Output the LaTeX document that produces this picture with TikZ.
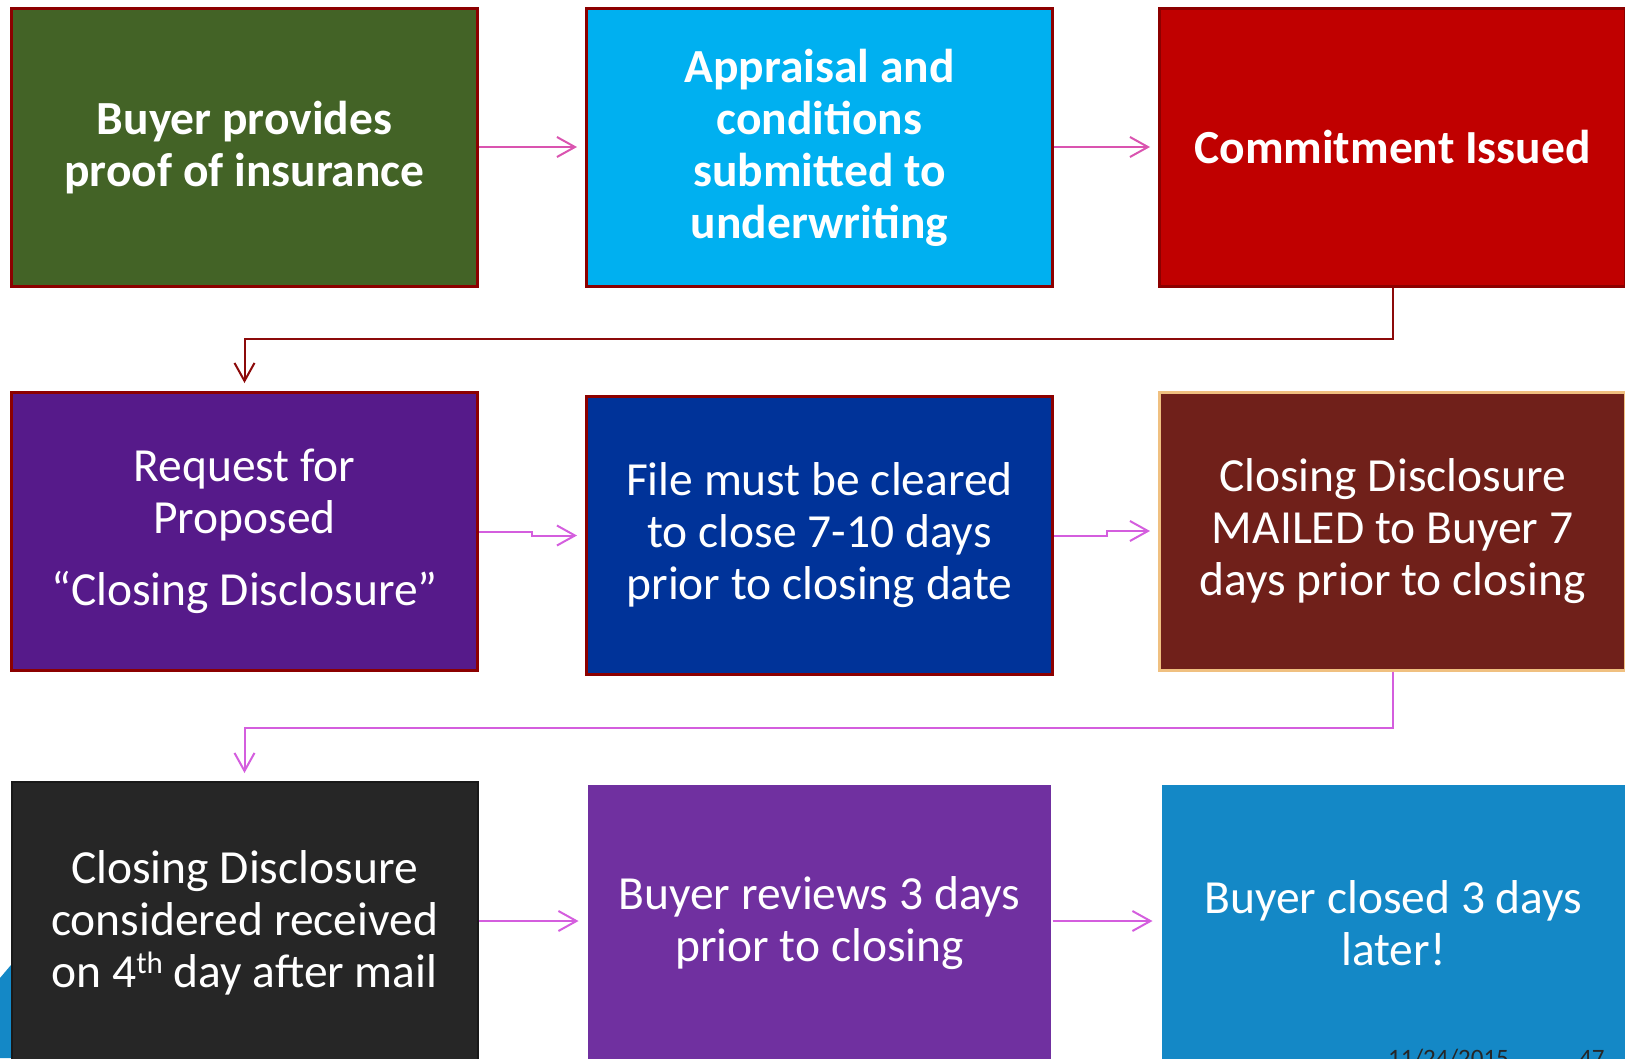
\documentclass[tikz,border=0pt]{standalone}
\usepackage{fontspec}
\setmainfont{Carlito}
\usetikzlibrary{arrows.meta}

\definecolor{cgreen}{RGB}{67,99,38}
\definecolor{ccyan}{RGB}{0,176,240}
\definecolor{cred}{RGB}{192,0,0}
\definecolor{cpurple}{RGB}{86,26,138}
\definecolor{cnavy}{RGB}{0,51,153}
\definecolor{cmaroon}{RGB}{112,32,26}
\definecolor{cdark}{RGB}{38,38,38}
\definecolor{cviolet}{RGB}{112,48,160}
\definecolor{cblue}{RGB}{20,136,198}
\definecolor{edgered}{RGB}{140,0,0}
\definecolor{edgetan}{RGB}{240,192,128}
\definecolor{linkpink}{RGB}{218,84,176}
\definecolor{linkviolet}{RGB}{212,94,222}
\definecolor{linkred}{RGB}{140,10,10}

% raised, smaller ordinal suffix
\newcommand{\ordsuffix}[1]{\raisebox{0.62ex}{\fontsize{31}{31}\selectfont #1}}

\tikzset{
  box/.style={rectangle, minimum width=466pt, minimum height=278pt, inner sep=0pt,
    align=center, text=white, line width=3pt,
    font=\fontsize{47.5}{52}\selectfont},
  boldbox/.style={box, font=\fontsize{47.5}{52}\selectfont\bfseries},
  link/.style={line width=2pt, -{Straight Barb[length=18pt,width=20pt,line width=2pt]},
    shorten >=8pt},
  footer/.style={anchor=base west, inner sep=0pt, text=black!85,
    font=\fontsize{25}{30}\selectfont},
}

\begin{document}
\begin{tikzpicture}[x=1pt,y=-1pt]
  \useasboundingbox (0,0) rectangle (1625,1058);
  \clip (0,0) rectangle (1625,1058);

  % slide decoration in the lower left corner
  \fill[cblue] (0,978) -- (11,965) -- (11,1058) -- (0,1058) -- cycle;

  % first row
  \node[boldbox, fill=cgreen, draw=edgered] (b1) at (244.5,147.5)
    {Buyer provides\\proof of insurance};
  \node[boldbox, fill=ccyan, draw=edgered] (b2) at (819.5,147.5)
    {Appraisal and\\conditions\\submitted to\\underwriting};
  \node[boldbox, fill=cred, draw=edgered] (b3) at (1392.5,147.5)
    {Commitment Issued};

  % second row
  \node[box, fill=cpurple, draw=edgered] (b4) at (244.5,531.5)
    {Request for\\Proposed\\[20pt]“Closing Disclosure”};
  \node[box, fill=cnavy, draw=edgered] (b5) at (819.5,535.5)
    {File must be cleared\\to close 7-10 days\\prior to closing date};
  \node[box, fill=cmaroon, draw=edgetan] (b6) at (1392.5,531)
    {Closing Disclosure\\MAILED to Buyer 7\\days prior to closing};

  % third row
  \node[box, fill=cdark, draw=black!90, line width=2pt, minimum height=282pt] (b7) at (244.5,923)
    {Closing Disclosure\\considered received\\on 4\ordsuffix{th} day after mail};
  \node[box, fill=cviolet, minimum width=463pt, minimum height=276pt] (b8) at (819.5,923)
    {Buyer reviews 3 days\\prior to closing};
  \node[box, fill=cblue, minimum width=463pt, minimum height=276pt] (b9) at (1393.5,923)
    {Buyer closed 3 days\\later!};

  % footer
  \node[footer] (date) at (1388,1066) {11/24/2015};
  \node[footer] (page) at (1579,1066) {47};

  % connectors
  \draw[link, linkpink] (b1.east |- 0,147) -- (b2.west |- 0,147);
  \draw[link, linkpink] (b2.east |- 0,147) -- (b3.west |- 0,147);
  \draw[link, linkred] (b3.south) -- ++(0,51) -| (b4.north);

  \draw[link, linkviolet] (b4.east) -- ++(53,0) |- (b5.west);
  \draw[link, linkviolet] (b5.east) -- ++(53,0) |- (b6.west);
  \draw[link, linkviolet] (b6.south) -- ++(0,56) -| (b7.north);

  \draw[link, linkviolet] (b7.east |- 0,921) -- (b8.west |- 0,921);
  \draw[link, linkviolet] (b8.east |- 0,921) -- (b9.west |- 0,921);
\end{tikzpicture}
\end{document}
